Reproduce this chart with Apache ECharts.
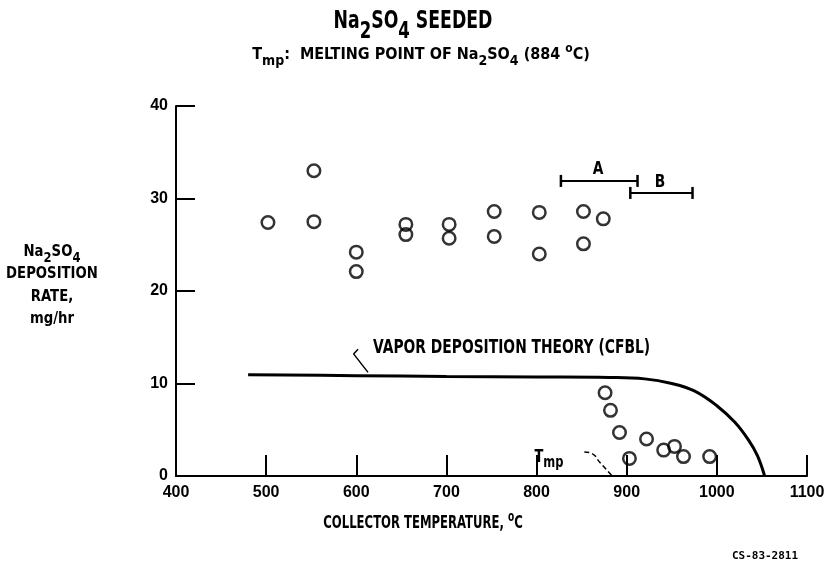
<!DOCTYPE html>
<html><head><meta charset="utf-8">
<script src="https://cdn.jsdelivr.net/npm/echarts@6/dist/echarts.min.js"></script>
<style>html,body{margin:0;padding:0;background:#fff}#c{width:829px;height:566px}</style>
</head><body><div id="c"></div><script>
// ---- data ----
const xMin = 400, xMax = 1100, xStep = 100;
const yMin = 0, yMax = 40, yStep = 10;
const measuredT    = [502, 553, 553, 600, 600, 655, 655, 703, 703, 753, 753, 803, 803, 852, 852, 874, 876, 882, 892, 903, 922, 941, 953, 963, 992];
const measuredRate = [27.4, 33.0, 27.5, 24.2, 22.1, 27.2, 26.1, 27.2, 25.7, 28.6, 25.9, 28.5, 24.0, 28.6, 25.1, 27.8, 9.0, 7.1, 4.7, 1.9, 4.0, 2.8, 3.2, 2.1, 2.1];
const theoryT    = [480, 600, 700, 800, 880, 920, 950, 975, 1000, 1020, 1035, 1045, 1053];
const theoryRate = [10.95, 10.85, 10.75, 10.7, 10.65, 10.5, 10.0, 9.2, 7.6, 5.8, 3.9, 2.2, 0];
const bracketA = [827, 912, 31.9];
const bracketB = [904, 973, 30.6];
const tmpLeaderT    = [853, 862, 870, 884];
const tmpLeaderRate = [2.6, 2.4, 1.5, 0];
const vaporLeaderT    = [602, 597, 613];
const vaporLeaderRate = [13.7, 13.2, 11.2];

const FONT = '"DejaVu Sans Condensed", "DejaVu Sans", sans-serif';
const AXFONT = '"Liberation Sans", Arial, sans-serif';
const zip = (a, b) => a.map((v, i) => [v, b[i]]);

const chart = echarts.init(document.getElementById('c'), null, {renderer: 'canvas'});

function richSet(size, lh, dSub, dSup, subScale) {
  const ss = Math.round(size * (subScale || 0.85));
  return {
    m: {fontFamily: FONT, fontWeight: 'bold', fontSize: size, lineHeight: lh, verticalAlign: 'middle', color: '#000'},
    s: {fontFamily: FONT, fontWeight: 'bold', fontSize: ss, lineHeight: lh, height: lh - 2 * dSub, verticalAlign: 'bottom', color: '#000'},
    u: {fontFamily: FONT, fontWeight: 'bold', fontSize: Math.round(size * 0.75), lineHeight: lh, height: lh - 2 * dSup, verticalAlign: 'top', color: '#000'}
  };
}
function txt(x, y, text, size, sx, rich, align) {
  return {
    type: 'text', x: x, y: y, scaleX: sx || 1,
    style: {
      text: text, fill: '#000',
      fontFamily: FONT, fontWeight: 'bold', fontSize: size,
      align: align || 'center', verticalAlign: 'middle', rich: rich || {}
    }
  };
}

const option = {
  animation: false,
  backgroundColor: '#fff',
  grid: {left: 176, right: 22, top: 106, bottom: 90},
  xAxis: {
    type: 'value', min: xMin, max: xMax, interval: xStep,
    axisLine: {show: true, lineStyle: {color: '#000', width: 2}},
    axisTick: {show: true, inside: true, length: 21, lineStyle: {color: '#000', width: 2}},
    axisLabel: {color: '#000', fontFamily: AXFONT, fontWeight: 'bold', fontSize: 16, margin: 9,
      formatter: function (v) { return String(v); }},
    splitLine: {show: false}
  },
  yAxis: {
    type: 'value', min: yMin, max: yMax, interval: yStep,
    axisLine: {show: true, lineStyle: {color: '#000', width: 2}},
    axisTick: {show: true, inside: true, length: 19, lineStyle: {color: '#000', width: 2}},
    axisLabel: {color: '#000', fontFamily: AXFONT, fontWeight: 'bold', fontSize: 16, margin: 8},
    splitLine: {show: false}
  },
  series: [
    {
      type: 'line', data: zip(theoryT, theoryRate), smooth: 0.4, symbol: 'none',
      lineStyle: {color: '#000', width: 3}, z: 3
    },
    {
      type: 'scatter', data: zip(measuredT, measuredRate), symbol: 'circle', symbolSize: 12.5,
      itemStyle: {color: 'rgba(0,0,0,0)', borderColor: '#000', borderWidth: 2.5}, z: 4
    },
    {
      type: 'line', data: zip(tmpLeaderT, tmpLeaderRate), smooth: 0.5, symbol: 'none',
      lineStyle: {color: '#000', width: 1.5, type: [5, 3]}
    },
    {
      type: 'line', data: zip(vaporLeaderT, vaporLeaderRate), symbol: 'none',
      lineStyle: {color: '#000', width: 1.5}
    },
    {
      type: 'custom', data: [bracketA, bracketB], encode: {x: [0, 1], y: 2},
      renderItem: function (params, api) {
        const y = api.value(2);
        const p1 = api.coord([api.value(0), y]);
        const p2 = api.coord([api.value(1), y]);
        const h = 6;
        const st = {stroke: '#000', lineWidth: 2};
        return {type: 'group', children: [
          {type: 'line', shape: {x1: p1[0], y1: p1[1], x2: p2[0], y2: p2[1]}, style: st},
          {type: 'line', shape: {x1: p1[0], y1: p1[1] - h, x2: p1[0], y2: p1[1] + h}, style: {stroke: '#000', lineWidth: 2.5}},
          {type: 'line', shape: {x1: p2[0], y1: p2[1] - h, x2: p2[0], y2: p2[1] + h}, style: {stroke: '#000', lineWidth: 2.5}}
        ]};
      }
    }
  ],
  graphic: [
    txt(413, 22, '{m|Na}{s|2}{m|SO}{s|4}{m| SEEDED}', 24, 0.8, richSet(24, 40, 10, 6, 0.95)),
    txt(421, 55, '{m|T}{s|mp}{m|:  MELTING POINT OF Na}{s|2}{m|SO}{s|4}{m| (884 }{u|o}{m|C)}', 16, 1.0, richSet(16, 30, 6, 6, 0.9)),
    txt(52, 252, '{m|Na}{s|2}{m|SO}{s|4}', 16, 0.92, richSet(16, 30, 6, 6, 0.9)),
    txt(52, 274, 'DEPOSITION', 16, 0.92),
    txt(52, 297, 'RATE,', 16, 0.92),
    txt(52, 319, 'mg/hr', 16, 0.92),
    txt(423, 523, '{m|COLLECTOR TEMPERATURE, }{u|o}{m|C}', 18, 0.72, richSet(18, 30, 6, 6)),
    {type: 'text', x: 765, y: 556, style: {text: 'CS-83-2811', fill: '#000', fontFamily: '"DejaVu Sans Mono", monospace', fontWeight: 'bold', fontSize: 11, align: 'center', verticalAlign: 'middle'}},
    txt(373, 348, 'VAPOR DEPOSITION THEORY (CFBL)', 19, 0.81, null, 'left'),
    txt(598, 170, 'A', 17, 0.9),
    txt(660, 183, 'B', 17, 0.9),
    txt(549, 458, '{m|T}{s|mp}', 17, 0.85, richSet(17, 30, 5, 5, 0.9))
  ]
};
chart.setOption(option);
</script></body></html>
